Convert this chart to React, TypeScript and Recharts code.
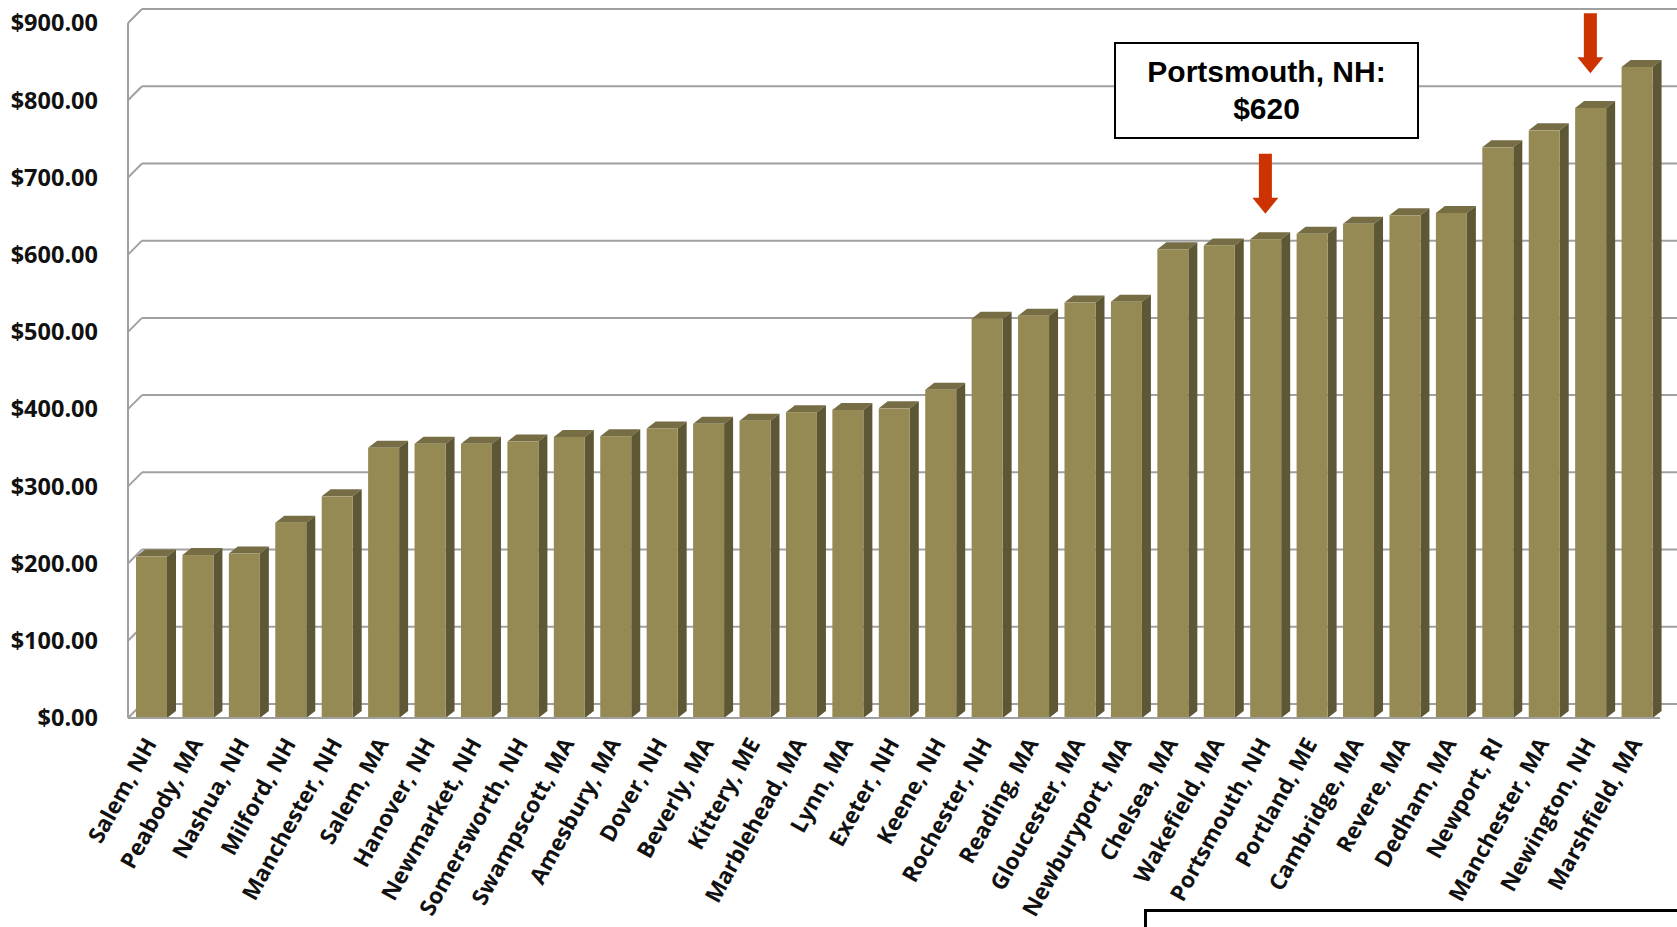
import React from 'react';
import {
  BarChart,
  Bar,
  XAxis,
  YAxis,
  CartesianGrid,
  ReferenceDot,
} from 'recharts';

const cities = [
  'Salem, NH', 'Peabody, MA', 'Nashua, NH', 'Milford, NH', 'Manchester, NH',
  'Salem, MA', 'Hanover, NH', 'Newmarket, NH', 'Somersworth, NH', 'Swampscott, MA',
  'Amesbury, MA', 'Dover, NH', 'Beverly, MA', 'Kittery, ME', 'Marblehead, MA',
  'Lynn, MA', 'Exeter, NH', 'Keene, NH', 'Rochester, NH', 'Reading, MA',
  'Gloucester, MA', 'Newburyport, MA', 'Chelsea, MA', 'Wakefield, MA', 'Portsmouth, NH',
  'Portland, ME', 'Cambridge, MA', 'Revere, MA', 'Dedham, MA', 'Newport, RI',
  'Manchester, MA', 'Newington, NH', 'Marshfield, MA',
];

const rents = [
  209, 211, 213, 253, 287,
  350, 355, 355, 358, 364,
  365, 375, 381, 385, 396,
  399, 401, 425, 517, 521,
  538, 539, 607, 612, 620,
  627, 640, 651, 654, 739,
  761, 790, 843,
];

const yTicks = [0, 100, 200, 300, 400, 500, 600, 700, 800, 900];

const data = cities.map((city, i) => ({ city, rent: rents[i] }));

const GRID = '#a0a0a0';
const DEPTH_X = 14;
const DEPTH_Y = 14;

// back-wall gridline plus the little diagonal on the side wall
const gridLine = (props: any) => {
  const { x1, x2, y1 } = props;
  return (
    <g key={props.key}>
      <line x1={x1} y1={y1} x2={x1 + DEPTH_X} y2={y1 - DEPTH_Y} stroke={GRID} strokeWidth={2} />
      <line x1={x1 + DEPTH_X} y1={y1 - DEPTH_Y} x2={x2 + 20} y2={y1 - DEPTH_Y} stroke={GRID} strokeWidth={2} />
    </g>
  );
};

// 3D column: front face, darker side, top
const Column = (props: any) => {
  const { x, y, width, height } = props;
  const dx = 9;
  const dy = 7;
  return (
    <g>
      <polygon
        points={`${x},${y} ${x + dx},${y - dy} ${x + width + dx},${y - dy} ${x + width},${y}`}
        fill="#776d44"
      />
      <polygon
        points={`${x + width},${y} ${x + width + dx},${y - dy} ${x + width + dx},${y + height - dy} ${x + width},${y + height}`}
        fill="#5e5735"
      />
      <rect x={x} y={y} width={width} height={height} fill="#958a54" />
    </g>
  );
};

const CityTick = (props: any) => {
  const { x, y, payload } = props;
  return (
    <g transform={`translate(${x},${y})`}>
      <text
        transform="rotate(-61)"
        textAnchor="end"
        dy={7}
        fontFamily="'Open Sans', sans-serif"
        fontWeight={700}
        fontSize={22.5}
        fill="#111"
      >
        {payload.value}
      </text>
    </g>
  );
};

const DownArrow = (props: any) => {
  const { cx, cy } = props;
  const len = 60;
  const head = 16;
  return (
    <polygon
      points={`${cx - 6.5},${cy - len} ${cx + 6.5},${cy - len} ${cx + 6.5},${cy - head} ${cx + 13},${cy - head} ${cx},${cy} ${cx - 13},${cy - head} ${cx - 6.5},${cy - head}`}
      fill="#cc3300"
    />
  );
};

export default function App() {
  return (
    <div
      style={{
        position: 'absolute',
        left: 0,
        top: 0,
        width: 1677,
        height: 927,
        overflow: 'hidden',
        background: '#fff',
      }}
    >
      <BarChart
        width={1677}
        height={927}
        data={data}
        margin={{ top: 23, right: 17, bottom: 0, left: 8 }}
        barSize={31}
      >
        <CartesianGrid vertical={false} horizontal={gridLine} />
        <XAxis
          dataKey="city"
          interval={0}
          height={209}
          tickLine={false}
          tickSize={0}
          tickMargin={22}
          axisLine={{ stroke: GRID, strokeWidth: 2 }}
          tick={<CityTick />}
        />
        <YAxis
          domain={[0, 900]}
          ticks={yTicks}
          width={120}
          tickLine={false}
          tickSize={0}
          tickMargin={30}
          axisLine={{ stroke: GRID, strokeWidth: 2 }}
          tickFormatter={(v: number) => `$${v.toFixed(2)}`}
          tick={{
            fontFamily: "'Open Sans', sans-serif",
            fontWeight: 700,
            fontSize: 23.5,
            fill: '#111',
          }}
        />
        <Bar dataKey="rent" shape={<Column />} isAnimationActive={false} />
        <ReferenceDot
          x="Portsmouth, NH"
          y={653}
          ifOverflow="visible"
          shape={<DownArrow />}
        />
        <ReferenceDot
          x="Newington, NH"
          y={835}
          ifOverflow="visible"
          shape={<DownArrow />}
        />
      </BarChart>
      <div
        style={{
          position: 'absolute',
          left: 1114,
          top: 42,
          width: 305,
          height: 97,
          boxSizing: 'border-box',
          border: '2px solid #000',
          background: '#fff',
          fontFamily: "'Liberation Sans', Arial, sans-serif",
          fontWeight: 700,
          fontSize: 30,
          lineHeight: '37px',
          textAlign: 'center',
          paddingTop: 9,
          color: '#000',
        }}
      >
        Portsmouth, NH:
        <br />
        $620
      </div>
      <div
        style={{
          position: 'absolute',
          left: 1144,
          top: 909,
          width: 600,
          height: 100,
          boxSizing: 'border-box',
          border: '3px solid #000',
          background: '#fff',
        }}
      />
    </div>
  );
}
